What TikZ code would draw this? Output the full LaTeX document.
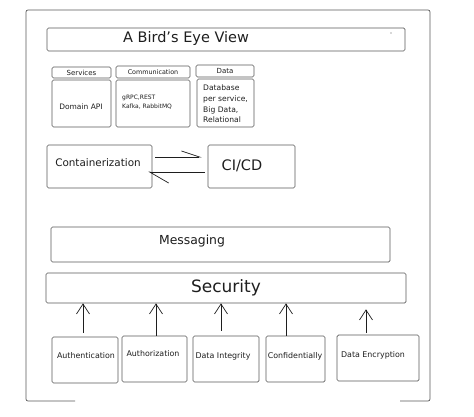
\documentclass[tikz,border=0pt]{standalone}
\usepackage{fontspec}
\setmainfont{DejaVu Sans}
\usetikzlibrary{arrows.meta}
\definecolor{linec}{HTML}{5A5A5A}
\definecolor{txtc}{HTML}{1E1E1E}
\newcommand{\fsz}[2]{\fontsize{#1}{#2}\selectfont}
\begin{document}
\begin{tikzpicture}[x=1pt,y=-1pt,
  bx/.style={draw=linec, line width=0.7pt, rounded corners=1.5pt, inner sep=0pt, text=txtc},
  txt/.style={text=txtc, inner sep=0pt},
  frame/.style={draw=linec, line width=0.7pt, rounded corners=2pt},
  uparr/.style={draw=txtc, line width=0.7pt, -{Straight Barb[length=10pt,width=13pt,line width=0.7pt]}},
  harpA/.style={draw=txtc, line width=0.7pt, -{Straight Barb[harpoon,length=18pt,width=12pt,line width=0.7pt]}},
  harpB/.style={draw=txtc, line width=0.7pt, -{Straight Barb[harpoon,length=19pt,width=22pt,line width=0.7pt]}}
]
\useasboundingbox (0,0) rectangle (474,417);
\fill[white] (0,0) rectangle (474,417);

% outer frame (bottom edge only partly drawn)
\draw[frame] (75,401) -- (26,401) -- (26,10) -- (430,10) -- (430,401) -- (400,401);

% title
\node[bx, minimum width=358pt, minimum height=23pt] (title) at (226,39.5) {};
\node[txt, font=\fsz{14.5}{17}] (titletext) at (186,38.5) {A Bird's Eye View};
\fill[linec] (391,33) circle (0.7);

% columns
\node[bx, minimum width=59pt, minimum height=11pt, font=\fsz{7}{8}] (svch) at (81.5,72.5) {Services};
\node[bx, minimum width=74pt, minimum height=12pt, font=\fsz{6.4}{8}] (comh) at (153,72) {Communication};
\node[bx, minimum width=58pt, minimum height=12pt, font=\fsz{7}{8}] (datah) at (225,71) {Data};

\node[bx, minimum width=59pt, minimum height=47pt] (svcb) at (81.5,103.5) {};
\node[txt, font=\fsz{7.5}{9}] (svct) at (81,107) {Domain API};
\node[bx, minimum width=74pt, minimum height=47pt] (comb) at (153,103.5) {};
\node[txt, font=\fsz{6}{9}, align=left, anchor=west] (comt) at (122,102.5) {gRPC,REST\\Kafka, RabbitMQ};
\node[bx, minimum width=57pt, minimum height=48pt] (datab) at (225.5,103) {};
\node[txt, font=\fsz{7.6}{10.7}, align=left, anchor=west] (datat) at (203,104) {Database\\per service,\\Big Data,\\Relational};

% containerization / CI-CD
\node[bx, minimum width=105pt, minimum height=43pt] (cont) at (99.5,166.5) {};
\node[txt, font=\fsz{10.4}{12}] (contt) at (98,163) {Containerization};
\node[bx, minimum width=87pt, minimum height=43pt] (cicd) at (251.5,166.5) {};
\node[txt, font=\fsz{14.5}{16}] (cicdt) at (242,166) {CI/CD};

\draw[harpA] ([xshift=3pt,yshift=9.5pt]cont.east) -- ([xshift=-6pt,yshift=9.5pt]cicd.west);
\draw[harpB] ([xshift=-3pt,yshift=-5.5pt]cicd.west) -- ([xshift=-4pt,yshift=-5.5pt]cont.east);

% messaging and security
\node[bx, minimum width=339pt, minimum height=35pt] (msg) at (220.5,244.5) {};
\node[txt, font=\fsz{12.4}{14}] (msgt) at (192,241) {Messaging};
\node[bx, minimum width=360pt, minimum height=30pt, font=\fsz{17}{19}] (sec) at (226,288) {Security};

% bottom boxes
\node[bx, minimum width=66pt, minimum height=46pt] (auth) at (85,360) {};
\node[txt, font=\fsz{7.9}{9}] (autht) at (86,356) {Authentication};
\node[bx, minimum width=65pt, minimum height=46pt] (authz) at (154.5,359) {};
\node[txt, font=\fsz{7.9}{9}] (authzt) at (153,354) {Authorization};
\node[bx, minimum width=66pt, minimum height=46pt] (integ) at (226,359) {};
\node[txt, font=\fsz{7.9}{9}] (integt) at (223,356) {Data Integrity};
\node[bx, minimum width=59pt, minimum height=46pt] (conf) at (295.5,359) {};
\node[txt, font=\fsz{7.9}{9}] (conft) at (295,356) {Confidentially};
\node[bx, minimum width=82pt, minimum height=46pt] (enc) at (378,358) {};
\node[txt, font=\fsz{7.9}{9}] (enct) at (373,355) {Data Encryption};

\coordinate (p1) at ([xshift=-2pt,yshift=4pt]auth.north);
\coordinate (p2) at ([xshift=1.5pt]authz.north);
\coordinate (p3) at ([xshift=-5pt,yshift=5pt]integ.north);
\coordinate (p4) at ([xshift=-9.5pt]conf.north);
\coordinate (p5) at ([xshift=-12pt,yshift=2pt]enc.north);
\draw[uparr] (p1) -- (p1 |- sec.south);
\draw[uparr] (p2) -- (p2 |- sec.south);
\draw[uparr] (p3) -- (p3 |- sec.south);
\draw[uparr] (p4) -- (p4 |- sec.south);
\draw[uparr, shorten >=6pt] (p5) -- (p5 |- sec.south);
\end{tikzpicture}
\end{document}
